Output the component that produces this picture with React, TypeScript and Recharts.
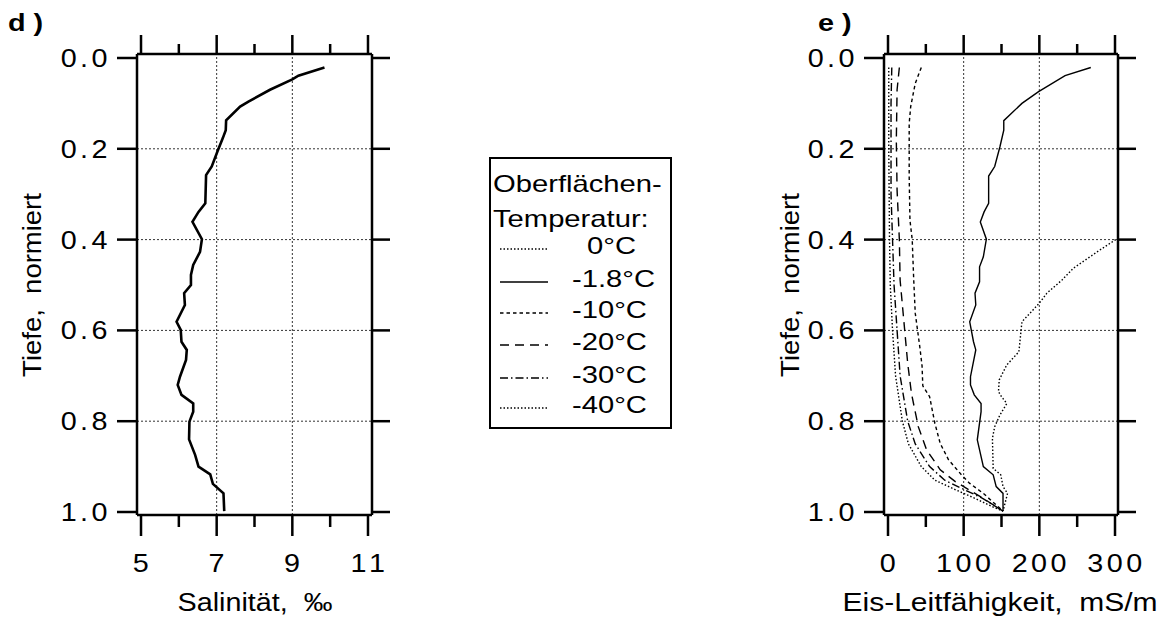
import React from "react";
import { LineChart, Line, XAxis, YAxis, ReferenceLine } from "recharts";

// panel d) salinity profile
const depthSal = [0.021, 0.039, 0.047, 0.07, 0.096, 0.107, 0.137, 0.159, 0.177, 0.206, 0.239, 0.258, 0.32, 0.339, 0.361, 0.399, 0.427, 0.456, 0.478, 0.5, 0.518, 0.544, 0.581, 0.599, 0.625, 0.643, 0.665, 0.702, 0.72, 0.742, 0.761, 0.779, 0.801, 0.84, 0.874, 0.9, 0.917, 0.938, 0.959, 0.998];
const salinity = [9.85, 9.16, 9.0, 8.41, 7.84, 7.62, 7.25, 7.24, 7.16, 7.02, 6.87, 6.72, 6.7, 6.52, 6.36, 6.61, 6.56, 6.38, 6.32, 6.32, 6.14, 6.16, 5.94, 6.05, 6.07, 6.21, 6.19, 6.03, 5.97, 6.07, 6.38, 6.38, 6.28, 6.27, 6.43, 6.52, 6.83, 6.9, 7.18, 7.2];

// panel e) ice conductivity per surface temperature
const depth0 = [0.4, 0.423, 0.463, 0.489, 0.518, 0.54, 0.581, 0.647, 0.676, 0.709, 0.735, 0.746, 0.761, 0.786, 0.812, 0.838, 0.904, 0.918, 0.944, 0.959, 0.998];
const cond0 = [301, 280, 245, 230, 210, 200, 177, 173, 157, 147, 146, 150, 157, 148, 141, 138, 139, 149, 152, 158, 152];
const depth18 = [0.021, 0.039, 0.074, 0.1, 0.138, 0.159, 0.195, 0.239, 0.26, 0.32, 0.339, 0.361, 0.399, 0.438, 0.46, 0.493, 0.518, 0.544, 0.581, 0.625, 0.643, 0.702, 0.72, 0.742, 0.761, 0.779, 0.841, 0.9, 0.918, 0.944, 0.959, 0.998];
const cond18 = [268, 234, 199, 177, 153, 153, 148, 141, 133, 133, 127, 122, 130, 126, 121, 121, 115, 116, 108, 113, 116, 109, 109, 114, 123, 123, 118, 126, 139, 143, 152, 152];
const depth10 = [0.021, 0.056, 0.107, 0.144, 0.26, 0.357, 0.4, 0.489, 0.562, 0.636, 0.678, 0.722, 0.746, 0.805, 0.849, 0.885, 0.918, 0.937, 0.959, 0.998];
const cond10 = [44, 36, 30, 28, 28, 29, 32, 34, 36, 42, 45, 46, 55, 62, 69, 80, 97, 108, 126, 152];
const depth20 = [0.021, 0.07, 0.181, 0.291, 0.4, 0.489, 0.562, 0.672, 0.739, 0.812, 0.863, 0.907, 0.933, 0.966, 0.998];
const cond20 = [15, 12, 11, 12, 15, 16, 20, 26, 31, 40, 51, 69, 89, 122, 152];
const depth30 = [0.021, 0.1, 0.2, 0.3, 0.4, 0.5, 0.6, 0.7, 0.8, 0.85, 0.9, 0.93, 0.95, 0.97, 0.998];
const cond30 = [5, 4, 4, 4, 6, 8, 12, 16, 26, 36, 55, 75, 100, 125, 152];
const depth40 = [0.021, 0.2, 0.4, 0.5, 0.6, 0.7, 0.8, 0.85, 0.9, 0.93, 0.95, 0.97, 0.99, 0.998];
const cond40 = [1, 1, 2, 3, 6, 10, 19, 27, 44, 62, 88, 115, 140, 152];

const depthTicks = [0, 0.2, 0.4, 0.6, 0.8, 1.0];
const salTicks = [5, 6, 7, 8, 9, 10, 11];
const salMajor = [5, 7, 9, 11];
const condTicks = [0, 50, 100, 150, 200, 250, 300];
const condMajor = [0, 100, 200, 300];
const salGrid = [7, 9];
const condGrid = [100, 200];
const depthGrid = [0.2, 0.4, 0.6, 0.8];

const legendLabels = ["0°C", "-1.8°C", "-10°C", "-20°C", "-30°C", "-40°C"];
const legendDash = ["1.5 2", "", "3.5 3", "9 6", "8 3 1.5 3", "1.5 2"];

const FONT = "'Liberation Sans', Arial, Helvetica, sans-serif";
const W = 1175;
const H = 617;
const TOP = 54;
const BOTTOM = 515;
const depthDomain = [-0.0088, 1.0066];

const rows = (ds: number[], vs: number[]) => ds.map((d, i) => ({ d, v: vs[i] }));

function Stretch({ x, y, anchor, size, sx, ls = 0, bold, children }: any) {
  return (
    <text
      transform={`translate(${x} ${y}) scale(${sx} 1)`}
      textAnchor={anchor}
      style={{ fontFamily: FONT, fontSize: size, letterSpacing: ls, fontWeight: bold ? 700 : 400, whiteSpace: "pre" }}
      fill="#000"
    >
      {children}
    </text>
  );
}

const bottomTick = (majors: number[], fmt: (v: number) => string, ls: number) => (p: any) => {
  const v = p.payload.value;
  const major = majors.includes(v);
  return (
    <g>
      <line x1={p.x} x2={p.x} y1={BOTTOM} y2={BOTTOM + (major ? 21 : 12)} stroke="#000" strokeWidth={2.5} />
      {major && (
        <Stretch x={p.x + ls / 2} y={572} anchor="middle" size={25} sx={1.15} ls={ls}>
          {fmt(v)}
        </Stretch>
      )}
    </g>
  );
};

const topTick = (majors: number[]) => (p: any) => {
  const major = majors.includes(p.payload.value);
  return <line x1={p.x} x2={p.x} y1={TOP} y2={TOP - (major ? 19 : 10)} stroke="#000" strokeWidth={2.5} />;
};

const leftTick = (edge: number) => (p: any) => (
  <g>
    <line x1={edge - 20} x2={edge} y1={p.y} y2={p.y} stroke="#000" strokeWidth={2.5} />
    <Stretch x={edge - 26} y={p.y + 9} anchor="end" size={25} sx={1.15} ls={3}>
      {Number(p.payload.value).toFixed(1)}
    </Stretch>
  </g>
);

const rightTick = (edge: number) => (p: any) => (
  <line x1={edge} x2={edge + 18} y1={p.y} y2={p.y} stroke="#000" strokeWidth={2.5} />
);

const axisLine = { stroke: "#000", strokeWidth: 2.5 };

function Panel({ left, right, xDomain, xTicks, xMajor, grid, fmt, ls, children }: any) {
  return (
    <div style={{ position: "absolute", left: 0, top: 0 }}>
      <LineChart
        width={W}
        height={H}
        layout="vertical"
        margin={{ left: left - 60, right: W - right - 30, top: TOP - 30, bottom: H - BOTTOM - 60 }}
      >
        <XAxis xAxisId="b" type="number" orientation="bottom" height={60} domain={xDomain} allowDataOverflow ticks={xTicks} interval={0} axisLine={axisLine} tickLine={false} tick={bottomTick(xMajor, fmt, ls)} />
        <XAxis xAxisId="t" type="number" orientation="top" height={30} domain={xDomain} allowDataOverflow ticks={xTicks} interval={0} axisLine={axisLine} tickLine={false} tick={topTick(xMajor)} />
        <YAxis yAxisId="l" type="number" dataKey="d" orientation="left" width={60} domain={depthDomain} allowDataOverflow ticks={depthTicks} interval={0} axisLine={axisLine} tickLine={false} tick={leftTick(left)} />
        <YAxis yAxisId="r" type="number" dataKey="d" orientation="right" width={30} domain={depthDomain} allowDataOverflow ticks={depthTicks} interval={0} axisLine={axisLine} tickLine={false} tick={rightTick(right)} />
        {grid.map((g: number) => (
          <ReferenceLine key={"gx" + g} xAxisId="b" yAxisId="l" x={g} stroke="#333" strokeWidth={1} strokeDasharray="2 2" />
        ))}
        {depthGrid.map((g) => (
          <ReferenceLine key={"gy" + g} xAxisId="b" yAxisId="l" y={g} stroke="#333" strokeWidth={1} strokeDasharray="2 2" />
        ))}
        {children}
      </LineChart>
    </div>
  );
}

export default function App() {
  const condSeries = [
    { key: "c0", data: rows(depth0, cond0), dash: legendDash[0] },
    { key: "c18", data: rows(depth18, cond18), dash: legendDash[1] },
    { key: "c10", data: rows(depth10, cond10), dash: legendDash[2] },
    { key: "c20", data: rows(depth20, cond20), dash: legendDash[3] },
    { key: "c30", data: rows(depth30, cond30), dash: legendDash[4] },
    { key: "c40", data: rows(depth40, cond40), dash: legendDash[5] },
  ];
  const rowBase = [254, 287, 318, 350, 383, 413];

  return (
    <div style={{ position: "absolute", left: 0, top: 0, width: W, height: H, background: "#fff", overflow: "hidden" }}>
      <Panel left={137} right={372} xDomain={[4.894, 11.106]} xTicks={salTicks} xMajor={salMajor} grid={salGrid} fmt={(v: number) => String(v)} ls={4}>
        <Line xAxisId="b" yAxisId="l" data={rows(depthSal, salinity)} dataKey="v" stroke="#000" strokeWidth={2.6} dot={false} isAnimationActive={false} />
      </Panel>
      <Panel left={884} right={1118} xDomain={[-5.29, 303.96]} xTicks={condTicks} xMajor={condMajor} grid={condGrid} fmt={(v: number) => String(v)} ls={3}>
        {condSeries.map((s) => (
          <Line key={s.key} xAxisId="b" yAxisId="l" data={s.data} dataKey="v" stroke="#000" strokeWidth={1.4} strokeDasharray={s.dash || undefined} dot={false} isAnimationActive={false} />
        ))}
      </Panel>
      <svg width={W} height={H} style={{ position: "absolute", left: 0, top: 0 }}>
        <Stretch x={8} y={31} anchor="start" size={24} sx={1.2} bold>d )</Stretch>
        <Stretch x={818} y={31} anchor="start" size={24} sx={1.2} bold>e )</Stretch>
        <g transform="translate(41 285) rotate(-90)">
          <Stretch x={0} y={0} anchor="middle" size={25} sx={1.1}>Tiefe,  normiert</Stretch>
        </g>
        <g transform="translate(799 285) rotate(-90)">
          <Stretch x={0} y={0} anchor="middle" size={25} sx={1.1}>Tiefe,  normiert</Stretch>
        </g>
        <Stretch x={255} y={611} anchor="middle" size={25} sx={1.15}>Salinität,  ‰</Stretch>
        <Stretch x={1000} y={611} anchor="middle" size={25} sx={1.2}>Eis-Leitfähigkeit,  mS/m</Stretch>

        <rect x={490} y={158} width={181} height={270} fill="#fff" stroke="#000" strokeWidth={2} />
        <Stretch x={493} y={192} anchor="start" size={23} sx={1.27}>Oberflächen-</Stretch>
        <Stretch x={493} y={227} anchor="start" size={23} sx={1.27}>Temperatur:</Stretch>
        {legendLabels.map((l, i) => (
          <g key={l}>
            <line x1={500} x2={548} y1={rowBase[i] - 5} y2={rowBase[i] - 5} stroke="#000" strokeWidth={1.4} strokeDasharray={legendDash[i] || undefined} />
            <Stretch x={i === 0 ? 587 : 572} y={rowBase[i]} anchor="start" size={23} sx={1.27}>{l}</Stretch>
          </g>
        ))}
      </svg>
    </div>
  );
}
